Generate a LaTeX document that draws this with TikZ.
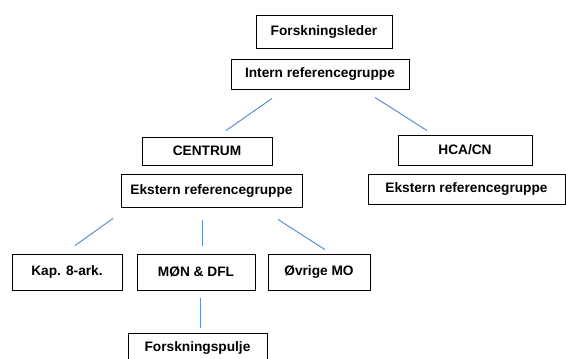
\documentclass[tikz,border=0pt]{standalone}
\usepackage{fontspec}
\setmainfont{Liberation Sans}
\usepackage{tikz}
\usetikzlibrary{calc,positioning}

\definecolor{linkblue}{HTML}{5B8FCF}

\begin{document}
\begin{tikzpicture}[x=1pt, y=-1pt,
    box/.style={draw, line width=0.9pt, inner sep=0pt, font=\fontsize{13.7}{16}\selectfont\bfseries, text=black},
    lnk/.style={draw=linkblue, line width=1pt}]

    \useasboundingbox (0,0) rectangle (566,359);

    \node[box, minimum width=136, minimum height=33] (leder)   at (324,31.5)  {Forskningsleder};
    \node[box, minimum width=178, minimum height=30] (intern)  at (320,74)    {Intern referencegruppe};
    \node[box, minimum width=130, minimum height=28] (centrum) at (207,151)   {CENTRUM};
    \node[box, minimum width=181, minimum height=33] (ekstL)   at (211.5,190.5) {Ekstern referencegruppe};
    \node[box, minimum width=134, minimum height=30] (hca)     at (465,150)   {HCA/CN};
    \node[box, minimum width=197, minimum height=30] (ekstR)   at (466.5,189) {Ekstern referencegruppe};
    \node[box, minimum width=110, minimum height=36] (kap)     at (67,272)    {Kap. 8-ark.};
    \node[box, minimum width=118, minimum height=36] (moen)    at (196,272)   {MØN \& DFL};
    \node[box, minimum width=102, minimum height=36] (oevrige) at (319,272)   {Øvrige MO};
    \node[box, minimum width=139, minimum height=30] (pulje)   at (197.5,348) {Forskningspulje};

    % loose links, not touching the boxes
    \draw[lnk] ($(intern.south)+(-48,9)$) -- ($(centrum.north)+(19,-6)$);
    \draw[lnk] ($(intern.south)+(55,8)$)  -- ($(hca.north)+(-38,-4)$);

    \draw[lnk] ($(ekstL.south)+(-98.5,11)$) -- ($(kap.north)+(8,-8)$);
    \draw[lnk] ($(ekstL.south)+(-9.5,13)$)  -- ($(moen.north)+(6,-8)$);
    \draw[lnk] ($(ekstL.south)+(66.5,12)$)  -- ($(oevrige.north)+(6,-4)$);

    \draw[lnk] ($(moen.south)+(4,8)$) -- ($(pulje.north)+(2.5,-5)$);

\end{tikzpicture}
\end{document}
